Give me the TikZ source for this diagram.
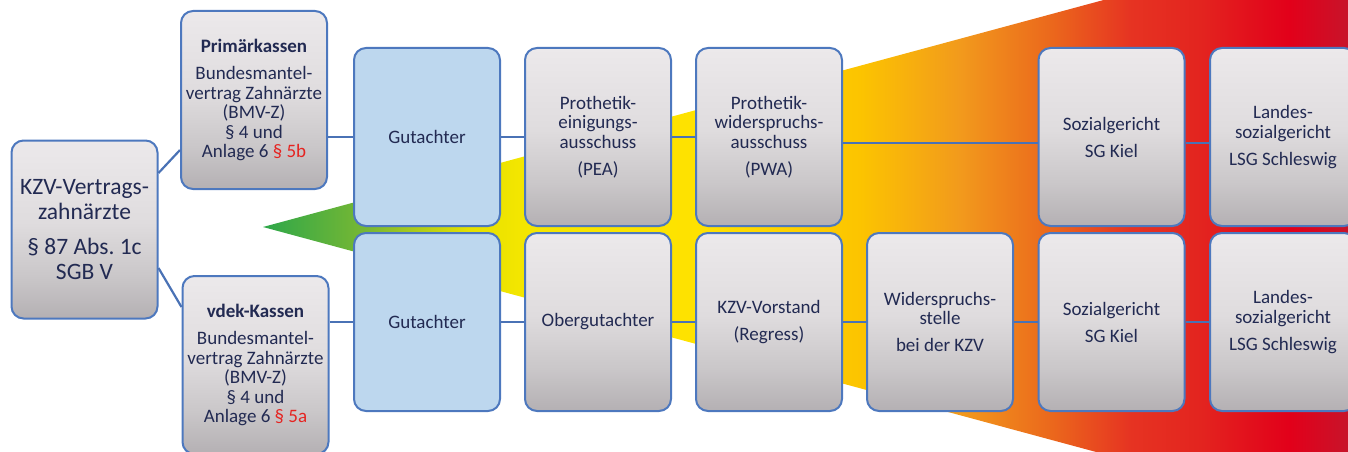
\documentclass[tikz,border=0pt]{standalone}
\usepackage{fontspec}
\setmainfont{Carlito}
\usepackage{tikz}
\usetikzlibrary{shadings,calc}
\frenchspacing
%Define colors
\definecolor{boxblue}{HTML}{4D78BE}
\definecolor{lineblue}{HTML}{4A72B5}
\definecolor{textnavy}{HTML}{222A52}
\definecolor{parared}{HTML}{E52421}
\definecolor{expertfill}{HTML}{BDD7EE}
\definecolor{boxlow}{HTML}{B4B0B3}
\definecolor{boxmid}{HTML}{CAC7C9}
\definecolor{boxhigh}{HTML}{DFDCDE}
\definecolor{boxtop}{HTML}{ECE9EB}
\definecolor{wgreen}{HTML}{2DA74A}
\definecolor{wlime}{HTML}{7BB832}
\definecolor{wyellowa}{HTML}{E5E000}
\definecolor{wyellowb}{HTML}{F3E600}
\definecolor{wyellowc}{HTML}{FFE200}
\definecolor{wgold}{HTML}{FCC400}
\definecolor{worangea}{HTML}{F29A1C}
\definecolor{worangeb}{HTML}{EB681C}
\definecolor{wreda}{HTML}{E63322}
\definecolor{wredb}{HTML}{E3241F}
\definecolor{wredc}{HTML}{E2001A}
\definecolor{wredd}{HTML}{C8142A}
%Define shadings
\pgfdeclareverticalshading{boxshade}{100bp}{color(0bp)=(boxlow); color(25bp)=(boxlow);
  color(37bp)=(boxmid); color(52bp)=(boxhigh); color(75bp)=(boxtop); color(100bp)=(boxtop)}
\pgfdeclarehorizontalshading{wedgeshade}{100bp}{color(0bp)=(wgreen); color(25bp)=(wgreen);
  color(29.9bp)=(wlime); color(34.5bp)=(wyellowa); color(36.8bp)=(wyellowb);
  color(45.1bp)=(wyellowc); color(52.5bp)=(wgold); color(57.1bp)=(worangea);
  color(61.3bp)=(worangeb); color(65bp)=(wreda); color(68.2bp)=(wredb);
  color(72.3bp)=(wredc); color(75bp)=(wredd); color(100bp)=(wredd)}
\tikzset{
%Define style for the boxes
box/.style={draw=boxblue, line width=2pt, rounded corners=12pt,
  minimum width=146pt, minimum height=178pt, align=center, text=textnavy,
  font=\fontsize{19}{19.5}\selectfont},
stage/.style={box, shade, shading=boxshade},
expert/.style={box, fill=expertfill},
%Define style for the connecting lines
connection/.style={draw=lineblue, line width=2.2pt},
}

\begin{document}
\begin{tikzpicture}[x=1pt,y=-1pt]
    \useasboundingbox (0,0) rectangle (1348,452);
    \clip (0,0) rectangle (1348,452);
    %Draw the wedge behind the boxes
    \coordinate (tip) at (263,227);
    \coordinate (wtop) at (1348,-66);
    \coordinate (wbot) at (1348,520);
    \shade[shading=wedgeshade] (tip) -- (wtop) -- (wbot) -- cycle;

    %Left column
    \node[stage, font=\fontsize{23.5}{25}\selectfont] (kzv) at (84.5,229.5)
      {KZV-Vertrags-\\zahnärzte\\[10pt]§ 87 Abs. 1c\\SGB V};
    \node[stage] (primaer) at (254,100)
      {\textbf{Primärkassen}\\[7.5pt]Bundesmantel-\\vertrag Zahnärzte\\(BMV-Z)\\§ 4 und\\Anlage 6 \textcolor{parared}{§ 5b}};
    \node[stage] (vdek) at (255.5,365)
      {\textbf{vdek-Kassen}\\[7.5pt]Bundesmantel-\\vertrag Zahnärzte\\(BMV-Z)\\§ 4 und\\Anlage 6 \textcolor{parared}{§ 5a}};

    %Upper row
    \node[expert] (gutA) at (427,137) {Gutachter};
    \node[stage] (pea) at (598,137) {Prothetik-\\einigungs-\\ausschuss\\[7.5pt](PEA)};
    \node[stage] (pwa) at (769,137) {Prothetik-\\widerspruchs-\\ausschuss\\[7.5pt](PWA)};
    \node[stage] (sgA) at (1111.5,137) {Sozialgericht\\[7.5pt]SG Kiel};
    \node[stage] (lsgA) at (1283,137) {Landes-\\sozialgericht\\[7.5pt]LSG Schleswig};

    %Lower row
    \node[expert] (gutB) at (427,322) {Gutachter};
    \node[stage] (ober) at (598,322) {Obergutachter};
    \node[stage] (vorstand) at (769,322) {KZV-Vorstand\\[7.5pt](Regress)};
    \node[stage] (wider) at (940,322) {Widerspruchs-\\stelle\\[7.5pt]bei der KZV};
    \node[stage] (sgB) at (1111.5,322) {Sozialgericht\\[7.5pt]SG Kiel};
    \node[stage] (lsgB) at (1283,322) {Landes-\\sozialgericht\\[7.5pt]LSG Schleswig};

    %Connections
    \draw[connection] ([yshift=56.5pt]kzv.east) -- ([yshift=-50pt]primaer.west);
    \draw[connection] ([yshift=-38.5pt]kzv.east) -- ([yshift=58pt]vdek.west);
    \draw[connection] (gutA.west -| primaer.east) -- (gutA.west);
    \draw[connection] (gutA.east) -- (pea.west);
    \draw[connection] (pea.east) -- (pwa.west);
    \draw[connection] ([yshift=-6pt]pwa.east) -- ([yshift=-6pt]sgA.west);
    \draw[connection] ([yshift=-6pt]sgA.east) -- ([yshift=-6pt]lsgA.west);
    \draw[connection] (gutB.west -| vdek.east) -- (gutB.west);
    \draw[connection] (gutB.east) -- (ober.west);
    \draw[connection] (ober.east) -- (vorstand.west);
    \draw[connection] (vorstand.east) -- (wider.west);
    \draw[connection] (wider.east) -- (sgB.west);
    \draw[connection] (sgB.east) -- (lsgB.west);
\end{tikzpicture}
\end{document}
